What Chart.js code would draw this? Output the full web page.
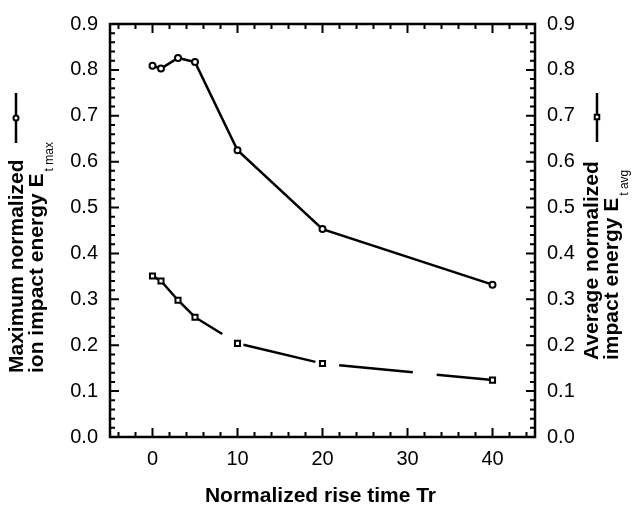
<!DOCTYPE html>
<html>
<head>
<meta charset="utf-8">
<script src="https://cdn.jsdelivr.net/npm/chart.js@4.4.1/dist/chart.umd.min.js"></script>
<style>
  html, body { margin: 0; padding: 0; background: #fff; }
  #wrap { width: 634px; height: 507px; position: relative; }
</style>
</head>
<body>
<div id="wrap"><canvas id="energyChart"></canvas></div>
<script>
// data
const riseTimes = [0, 1, 3, 5, 10, 20, 40];
const energyMax = [0.809, 0.803, 0.826, 0.817, 0.625, 0.453, 0.332];
const energyAvg = [0.351, 0.340, 0.298, 0.261, 0.204, 0.160, 0.124];
const xTicks = [0, 10, 20, 30, 40];
const yTicks = [0, 0.1, 0.2, 0.3, 0.4, 0.5, 0.6, 0.7, 0.8, 0.9];

const FONT = "'Liberation Sans', Arial, Helvetica, sans-serif";

const toPoints = ys => riseTimes.map((x, i) => ({ x: x, y: ys[i] }));

// frame, inward ticks and the axis titles
const framePlugin = {
  id: "frame",
  beforeDatasetsDraw(chart) {
    const { ctx, chartArea: a, scales } = chart;
    ctx.save();
    ctx.strokeStyle = "#000";
    ctx.lineWidth = 2.5;
    ctx.strokeRect(a.left, a.top, a.right - a.left, a.bottom - a.top);

    ctx.lineWidth = 2;
    ctx.beginPath();
    for (let i = -2; i <= 22; i++) {
      const px = scales.x.getPixelForValue(i * 2);
      const len = i % 5 === 0 ? 9 : 5;
      ctx.moveTo(px, a.bottom); ctx.lineTo(px, a.bottom - len);
      ctx.moveTo(px, a.top); ctx.lineTo(px, a.top + len);
    }
    for (let i = 1; i < 45; i++) {
      const py = scales.y.getPixelForValue(i * 0.02);
      const len = i % 5 === 0 ? 9 : 5;
      ctx.moveTo(a.left, py); ctx.lineTo(a.left + len, py);
      ctx.moveTo(a.right, py); ctx.lineTo(a.right - len, py);
    }
    ctx.stroke();
    ctx.restore();
  },
  afterDraw(chart) {
    const { ctx, chartArea: a } = chart;
    const bold = "bold 21px " + FONT;
    const sub = "12px " + FONT;
    ctx.save();
    ctx.fillStyle = "#000";
    ctx.textBaseline = "alphabetic";

    // x title
    ctx.font = bold;
    ctx.textAlign = "center";
    ctx.fillText("Normalized rise time Tr", (a.left + a.right) / 2 - 2, 502);

    const vLabel = (x, y, line1, line2, subText, x2) => {
      ctx.save();
      ctx.translate(x, y);
      ctx.rotate(-Math.PI / 2);
      ctx.textAlign = "left";
      ctx.font = bold;
      ctx.fillText(line1, 0, 0);
      const dy = x2 - x;
      ctx.fillText(line2, 0, dy);
      const w = ctx.measureText(line2).width;
      ctx.font = sub;
      ctx.fillText(subText, w + 2, dy + 10);
      ctx.restore();
    };
    vLabel(23, 373, "Maximum normalized", "ion impact energy E", "t max", 43);
    vLabel(598, 360, "Average normalized", "impact energy E", "t avg", 618);

    // legend keys next to the axis titles
    ctx.strokeStyle = "#000";
    ctx.lineWidth = 2.5;
    ctx.beginPath();
    ctx.moveTo(16, 93); ctx.lineTo(16, 143);
    ctx.moveTo(597, 93); ctx.lineTo(597, 142);
    ctx.stroke();
    ctx.fillStyle = "#fff";
    ctx.lineWidth = 2;
    Chart.helpers.drawPoint(ctx, { pointStyle: "circle", radius: 2.5, borderWidth: 2 }, 16, 118);
    Chart.helpers.drawPoint(ctx, { pointStyle: "rect", radius: 3.2, borderWidth: 2 }, 597, 117);
    ctx.restore();
  }
};

const ctx = document.getElementById("energyChart").getContext("2d");

new Chart(ctx, {
  type: "line",
  data: {
    datasets: [
      {
        label: "E t max",
        data: toPoints(energyMax),
        yAxisID: "y",
        borderColor: "#000",
        borderWidth: 2.5,
        pointStyle: "circle",
        pointRadius: 3,
        pointBorderWidth: 2,
        pointBackgroundColor: "#fff",
        pointBorderColor: "#000",
        tension: 0
      },
      {
        label: "E t avg",
        data: toPoints(energyAvg),
        yAxisID: "y2",
        borderColor: "#000",
        borderWidth: 2.5,
        pointStyle: "rect",
        pointRadius: 3.6,
        pointBorderWidth: 2,
        pointBackgroundColor: "#fff",
        pointBorderColor: "#000",
        tension: 0,
        // long-dash pattern past the first few points
        segment: {
          borderDash: c => c.p0DataIndex < 3 ? [] : [74, 24],
          borderDashOffset: c => c.p0DataIndex < 3 ? 0 : 42
        }
      }
    ]
  },
  options: {
    responsive: true,
    maintainAspectRatio: false,
    animation: false,
    layout: { padding: { top: 15, left: 0, right: 0, bottom: 0 } },
    plugins: {
      legend: { display: false },
      tooltip: { enabled: false }
    },
    scales: {
      x: {
        type: "linear",
        min: -5,
        max: 45,
        afterBuildTicks: s => { s.ticks = xTicks.map(v => ({ value: v })); },
        afterFit: s => { s.height = 70; },
        grid: { display: false, drawTicks: false },
        border: { display: false },
        ticks: { color: "#000", padding: 10, font: { family: FONT, size: 20 }, maxRotation: 0 }
      },
      y: {
        position: "left",
        min: 0,
        max: 0.9,
        afterBuildTicks: s => { s.ticks = yTicks.map(v => ({ value: v })); },
        afterFit: s => { s.width = 110; },
        grid: { display: false, drawTicks: false },
        border: { display: false },
        ticks: { color: "#000", padding: 12, font: { family: FONT, size: 20 }, callback: v => v.toFixed(1) }
      },
      y2: {
        position: "right",
        min: 0,
        max: 0.9,
        afterBuildTicks: s => { s.ticks = yTicks.map(v => ({ value: v })); },
        afterFit: s => { s.width = 99; },
        grid: { display: false, drawTicks: false },
        border: { display: false },
        ticks: { color: "#000", padding: 12, font: { family: FONT, size: 20 }, callback: v => v.toFixed(1) }
      }
    }
  },
  plugins: [framePlugin]
});
</script>
</body>
</html>
